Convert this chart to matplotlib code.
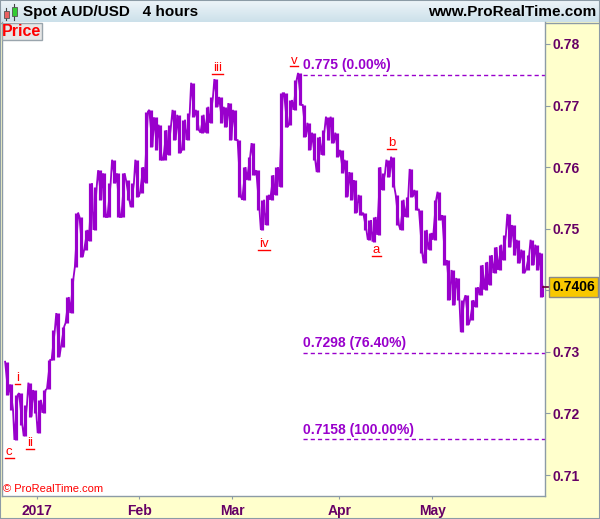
import matplotlib
matplotlib.use('Agg')
import matplotlib.pyplot as plt
import matplotlib.patches as mpatches
import matplotlib.transforms as mtransforms
from matplotlib.lines import Line2D
import numpy as np

plt.rcParams['font.family'] = ['Liberation Sans', 'DejaVu Sans']

# AUD/USD 4h, summarised as low / high of each trading day (22 Dec 2016 -> 1 Jun 2017)
day_low = [0.7230, 0.7206, 0.7157, 0.7182, 0.7163, 0.7195, 0.7201, 0.7168, 0.7201, 0.7240,
           0.7287, 0.7292, 0.7308, 0.7347, 0.7363, 0.7438, 0.7454, 0.7466, 0.7480, 0.7498,
           0.7547, 0.7519, 0.7519, 0.7574, 0.7519, 0.7519, 0.7547, 0.7535, 0.7552, 0.7558,
           0.7575, 0.7633, 0.7628, 0.7612, 0.7612, 0.7620, 0.7644, 0.7623, 0.7628, 0.7644,
           0.7682, 0.7660, 0.7656, 0.7656, 0.7672, 0.7698, 0.7672, 0.7665, 0.7644, 0.7644,
           0.7552, 0.7547, 0.7579, 0.7587, 0.7531, 0.7498, 0.7506, 0.7547, 0.7555, 0.7568,
           0.7665, 0.7669, 0.7693, 0.7701, 0.7649, 0.7628, 0.7612, 0.7592, 0.7620, 0.7644,
           0.7639, 0.7617, 0.7591, 0.7552, 0.7547, 0.7526, 0.7522, 0.7498, 0.7482, 0.7479,
           0.7490, 0.7563, 0.7584, 0.7568, 0.7506, 0.7498, 0.7519, 0.7552, 0.7531, 0.7461,
           0.7444, 0.7466, 0.7482, 0.7514, 0.7441, 0.7384, 0.7376, 0.7384, 0.7332, 0.7344,
           0.7352, 0.7373, 0.7392, 0.7401, 0.7409, 0.7428, 0.7433, 0.7449, 0.7470, 0.7457,
           0.7444, 0.7428, 0.7433, 0.7441, 0.7433, 0.7389]
day_high = [0.7284, 0.7247, 0.7230, 0.7233, 0.7214, 0.7250, 0.7238, 0.7222, 0.7238, 0.7287,
            0.7336, 0.7363, 0.7341, 0.7389, 0.7420, 0.7526, 0.7519, 0.7498, 0.7574, 0.7568,
            0.7595, 0.7590, 0.7574, 0.7612, 0.7590, 0.7590, 0.7579, 0.7574, 0.7612, 0.7600,
            0.7690, 0.7693, 0.7681, 0.7669, 0.7660, 0.7669, 0.7693, 0.7685, 0.7677, 0.7688,
            0.7737, 0.7693, 0.7685, 0.7698, 0.7714, 0.7743, 0.7714, 0.7698, 0.7704, 0.7693,
            0.7644, 0.7600, 0.7617, 0.7639, 0.7595, 0.7547, 0.7555, 0.7587, 0.7600, 0.7720,
            0.7720, 0.7709, 0.7742, 0.7753, 0.7701, 0.7672, 0.7656, 0.7649, 0.7660, 0.7682,
            0.7682, 0.7656, 0.7628, 0.7612, 0.7592, 0.7579, 0.7555, 0.7526, 0.7514, 0.7519,
            0.7600, 0.7590, 0.7612, 0.7617, 0.7555, 0.7547, 0.7552, 0.7597, 0.7563, 0.7531,
            0.7498, 0.7493, 0.7547, 0.7560, 0.7522, 0.7449, 0.7433, 0.7420, 0.7384, 0.7392,
            0.7384, 0.7405, 0.7441, 0.7446, 0.7457, 0.7470, 0.7474, 0.7490, 0.7524, 0.7506,
            0.7482, 0.7466, 0.7457, 0.7482, 0.7474, 0.7461]
last_close = 0.7406

month_pos = [7, 29, 49, 72, 92]
month_labels = ['2017', 'Feb', 'Mar', 'Apr', 'May']
price_ticks = [0.71, 0.72, 0.73, 0.74, 0.75, 0.76, 0.77, 0.78]
# 0.74 sits under the last-price tag, so its label is left out
price_labels = ['0.71', '0.72', '0.73', '', '0.75', '0.76', '0.77', '0.78']

fib_start = 64.2
fib_prices = [0.775, 0.7298, 0.7158]
fib_labels = ['0.775 (0.00%)', '0.7298 (76.40%)', '0.7158 (100.00%)']

wave_text = ['c', 'i', 'ii', 'iii', 'iv', 'v', 'a', 'b']
wave_day = [1.05, 2.9, 5.44, 45.9, 55.8, 62.3, 80.0, 83.3]
wave_price = [0.7127, 0.7247, 0.7142, 0.7751, 0.7465, 0.7763, 0.7455, 0.7629]

W, H = 600, 519
LINE = '#9900CC'
PANEL = '#FFFFCC'
GRID = '#8C9BA6'
TXT = '#660066'

fig = plt.figure(figsize=(W / 100, H / 100), dpi=100)

# background layer: yellow scale panels + header
bg = fig.add_axes([0, 0, 1, 1], zorder=0)
bg.set_xlim(0, W)
bg.set_ylim(H, 0)
bg.axis('off')
bg.add_patch(mpatches.Rectangle((0, 0), W, H, fc=PANEL, ec='none'))
grad = np.linspace(0, 1, 50)[:, None]
cmap = matplotlib.colors.LinearSegmentedColormap.from_list('hdr', ['#EEF5F9', '#CCE0EA'])
bg.imshow(grad, extent=(0, W, 22, 0), aspect='auto', cmap=cmap, zorder=1)
bg.plot([0, W], [22.5, 22.5], color=GRID, lw=1, zorder=2)
# candle icon
bg.plot([6, 6], [8, 20], color='#444444', lw=0.8, zorder=2)
bg.add_patch(mpatches.Rectangle((3.5, 11), 5, 6.5, fc='#E86060', ec='#555555', lw=0.6, zorder=3))
bg.plot([14, 14], [3.5, 19.5], color='#444444', lw=0.8, zorder=2)
bg.add_patch(mpatches.Rectangle((11.5, 6.5), 5, 9.5, fc='#33CC33', ec='#555555', lw=0.6, zorder=3))
bg.text(23, 12, 'Spot AUD/USD   4 hours', fontsize=11, fontweight='bold', color='black',
        va='center', ha='left', zorder=3)
bg.text(596, 12, 'www.ProRealTime.com', fontsize=11, fontweight='bold', color='black',
        va='center', ha='right', zorder=3)

# price chart
ax = fig.add_axes([2 / W, 23 / H, 543 / W, 474 / H], zorder=1)
ax.set_facecolor('white')

xs, ys = [], []
n = len(day_low)
for d in range(n):
    mid = (day_low[d] + day_high[d]) / 2
    if d < n - 1:
        nxt = (day_low[d + 1] + day_high[d + 1]) / 2
    else:
        nxt = last_close
    if nxt > mid:
        pair = (day_low[d], day_high[d])
    else:
        pair = (day_high[d], day_low[d])
    xs += [d + 0.15, d + 0.85]
    ys += list(pair)
xs.append(n - 0.2)
ys.append(last_close)
ax.plot(xs, ys, color=LINE, lw=1.3, solid_joinstyle='miter', zorder=3)
ax.vlines(np.arange(n) + 0.5, day_low, day_high, color=LINE, lw=2.3, zorder=3)

ax.set_xlim(-0.52, 116.26)
ax.set_ylim(0.70659, 0.78357)

# fibonacci retracement levels
for p, lab in zip(fib_prices, fib_labels):
    ax.plot([fib_start, 116.26], [p, p], color=LINE, lw=1.0, linestyle=(0, (3, 2.2)), zorder=2)
    ax.annotate(lab, (fib_start, p), xytext=(0, 2), textcoords='offset points',
                fontsize=10, fontweight='bold', color=LINE, ha='left', va='bottom')

# elliott wave labels
wave_artists = []
for s, d, p in zip(wave_text, wave_day, wave_price):
    t = ax.text(d, p, s, fontsize=9.5, color='#FF0000', ha='center', va='bottom', zorder=4)
    wave_artists.append(t)

# axes styling
ax.yaxis.tick_right()
ax.set_yticks(price_ticks)
ax.set_yticklabels(price_labels)
ax.set_xticks(month_pos)
ax.set_xticklabels(month_labels)
ax.tick_params(axis='y', length=3.6, width=0.8, color=GRID, pad=2.0, labelsize=10, labelcolor=TXT)
ax.tick_params(axis='x', length=2.5, width=0.8, color=GRID, pad=3.5, labelsize=10, labelcolor=TXT)
for lbl in ax.get_xticklabels() + ax.get_yticklabels():
    lbl.set_fontweight('bold')
for side in ['left', 'right', 'bottom']:
    ax.spines[side].set_color(GRID)
    ax.spines[side].set_linewidth(1.0)
ax.spines['top'].set_visible(False)

# last price marker and tag
blend = mtransforms.blended_transform_factory(ax.transAxes, ax.transData)
ax.plot([0.996, 1.009], [last_close, last_close], color='#660033', lw=1.2, transform=blend,
        clip_on=False, zorder=5)
ax.text(1.0135, last_close, '%.4f' % last_close, transform=blend, fontsize=10, fontweight='bold',
        color='black', ha='left', va='center', zorder=6, clip_on=False,
        bbox=dict(boxstyle='square,pad=0.22', fc='#F8C800', ec='#8A8A8A', lw=1.0))

# foreground layer: "Price" box and copyright
fg = fig.add_axes([0, 0, 1, 1], zorder=3)
fg.set_xlim(0, W)
fg.set_ylim(H, 0)
fg.axis('off')
fg.patch.set_visible(False)
fg.add_patch(mpatches.Rectangle((1.5, 23), 40, 16.5, fc='#E6E6E6', ec='#9AA5AD', lw=1.0))
fg.text(21.5, 31.5, 'Price', fontsize=11.5, fontweight='bold', color='#FF0000',
        ha='center', va='center')
fg.text(3, 489, '\u00a9 ProRealTime.com', fontsize=8, color='#FF0000', ha='left', va='center')

# underline the wave labels
fig.canvas.draw()
r = fig.canvas.get_renderer()
for t in wave_artists:
    bb = t.get_window_extent(r)
    fig.add_artist(Line2D([bb.x0 - 1, bb.x1 + 1], [bb.y0 + 0.5, bb.y0 + 0.5], color='#FF0000',
                          lw=1.0, transform=mtransforms.IdentityTransform()))

# outer frame
fig.add_artist(mpatches.Rectangle((0, 0), 1, 1, transform=fig.transFigure, fill=False,
                                  ec=GRID, lw=1.5))

fig.savefig('out.png', dpi=100)
